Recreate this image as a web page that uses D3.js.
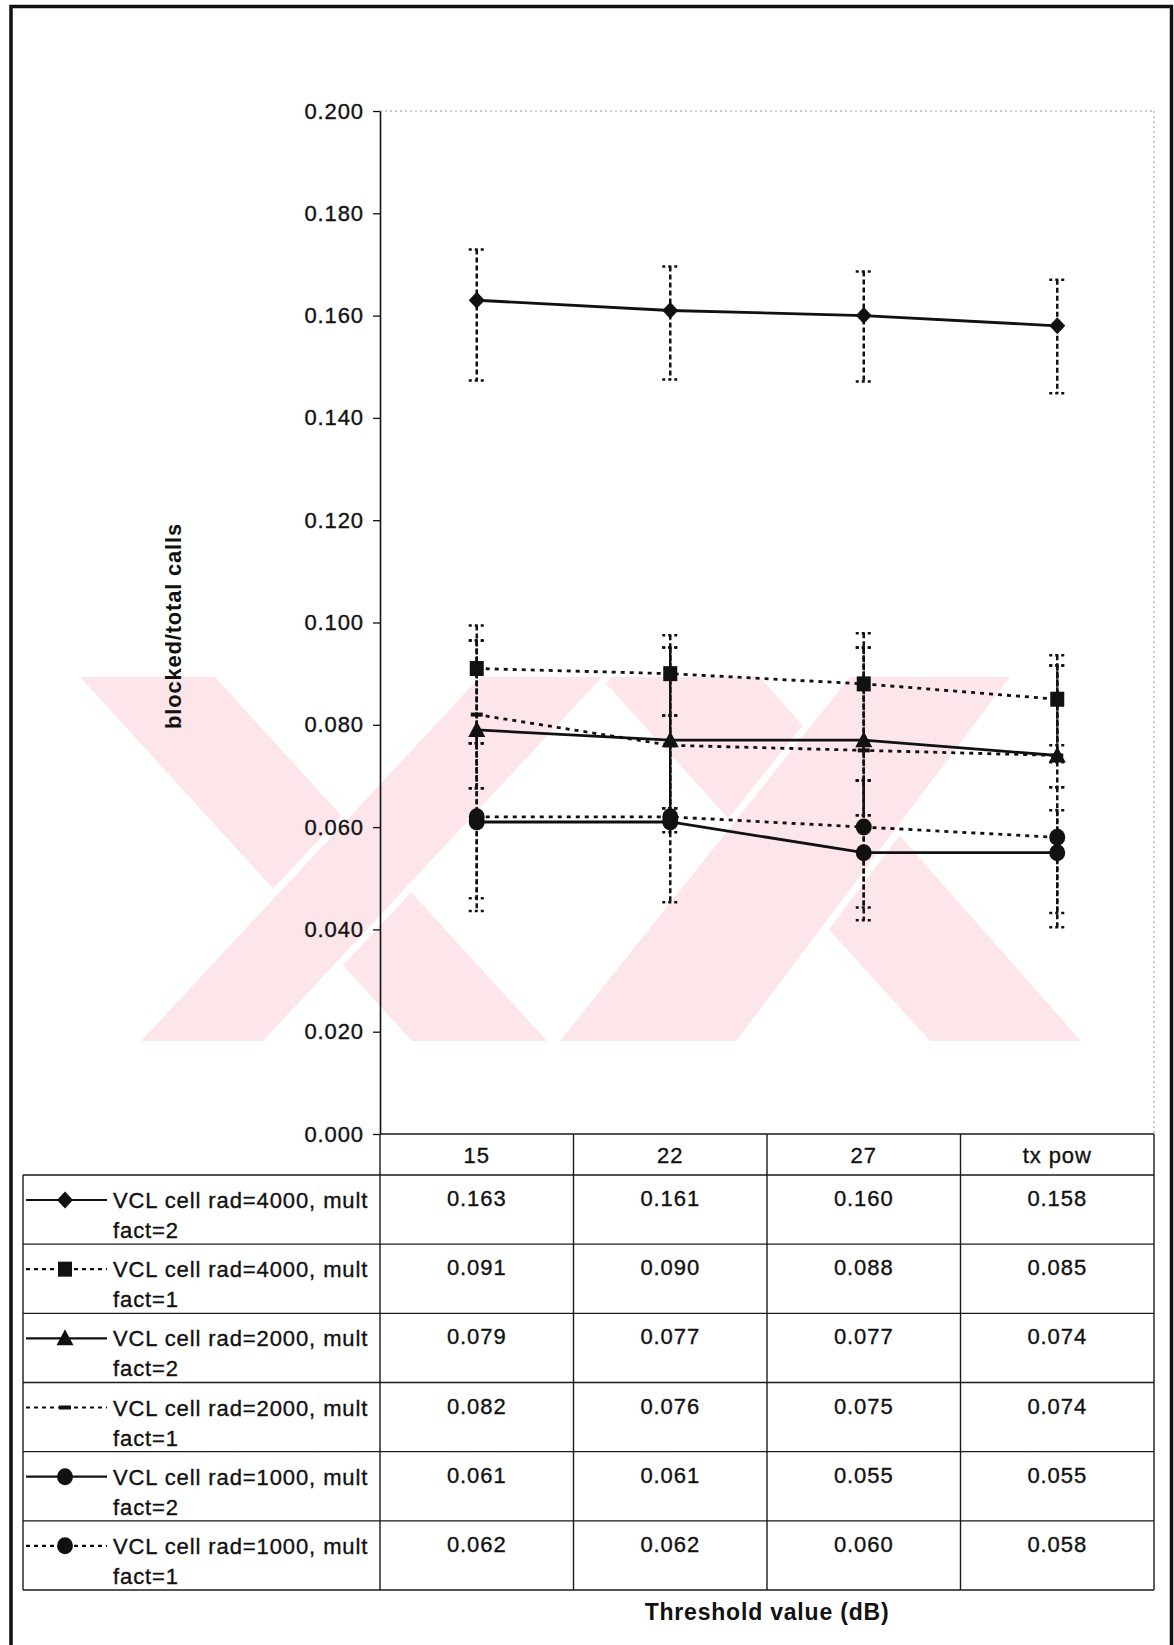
<!DOCTYPE html>
<html>
<head>
<meta charset="utf-8">
<script src="https://cdn.jsdelivr.net/npm/d3@7"></script>
<style>
  html, body { margin: 0; padding: 0; background: #fff; }
  svg { display: block; }
  text { font-family: "Liberation Sans", Arial, sans-serif; fill: #111; }
  .ink { stroke: #111; stroke-width: 0.35px; }
</style>
</head>
<body>
<svg id="chart" width="1174" height="1645"></svg>
<script>
// ---- data ----
const categories = ["15", "22", "27", "tx pow"];
const seriesNames = [
  "VCL cell rad=4000, mult fact=2",
  "VCL cell rad=4000, mult fact=1",
  "VCL cell rad=2000, mult fact=2",
  "VCL cell rad=2000, mult fact=1",
  "VCL cell rad=1000, mult fact=2",
  "VCL cell rad=1000, mult fact=1"
];
const rad4000mult2 = [0.163, 0.161, 0.160, 0.158];
const rad4000mult1 = [0.091, 0.090, 0.088, 0.085];
const rad2000mult2 = [0.079, 0.077, 0.077, 0.074];
const rad2000mult1 = [0.082, 0.076, 0.075, 0.074];
const rad1000mult2 = [0.061, 0.061, 0.055, 0.055];
const rad1000mult1 = [0.062, 0.062, 0.060, 0.058];

// error bar limits (upper / lower) per series
const rad4000mult2Hi = [0.1729, 0.1696, 0.1686, 0.1670];
const rad4000mult2Lo = [0.1473, 0.1475, 0.1471, 0.1448];
const rad4000mult1Hi = [0.0994, 0.0975, 0.0979, 0.0936];
const rad4000mult1Lo = [0.0764, 0.0818, 0.0691, 0.0760];
const rad2000mult2Hi = [0.0965, 0.0951, 0.0951, 0.0916];
const rad2000mult2Lo = [0.0676, 0.0637, 0.0623, 0.0678];
const rad2000mult1Hi = [0.0965, 0.0951, 0.0951, 0.0916];
const rad2000mult1Lo = [0.0676, 0.0637, 0.0623, 0.0727];
const rad1000mult2Hi = [0.0764, 0.0637, 0.0691, 0.0633];
const rad1000mult2Lo = [0.0461, 0.0453, 0.0418, 0.0404];
const rad1000mult1Hi = [0.0764, 0.0818, 0.0691, 0.0678];
const rad1000mult1Lo = [0.0436, 0.0590, 0.0443, 0.0432];

const yTicks = [0, 0.02, 0.04, 0.06, 0.08, 0.10, 0.12, 0.14, 0.16, 0.18, 0.20];
const xTitle = "Threshold value (dB)";
const yTitle = "blocked/total calls";

const seriesValues = [rad4000mult2, rad4000mult1, rad2000mult2, rad2000mult1, rad1000mult2, rad1000mult1];
const seriesHi = [rad4000mult2Hi, rad4000mult1Hi, rad2000mult2Hi, rad2000mult1Hi, rad1000mult2Hi, rad1000mult1Hi];
const seriesLo = [rad4000mult2Lo, rad4000mult1Lo, rad2000mult2Lo, rad2000mult1Lo, rad1000mult2Lo, rad1000mult1Lo];
const seriesDashed = [false, true, false, true, false, true];
const seriesMarker = ["diamond", "square", "triangle", "dash", "circle", "circle"];

const series = seriesNames.map((name, i) => ({
  name, values: seriesValues[i], hi: seriesHi[i], lo: seriesLo[i],
  dashed: seriesDashed[i], marker: seriesMarker[i]
}));

// ---- layout ----
const svg = d3.select("#chart");
const plot = { left: 380, right: 1154, top: 111, bottom: 1134 };
const table = { left: 23, bottom: 1590, headerBottom: 1175 };

const x = d3.scaleBand().domain(categories).range([plot.left, plot.right]);
const cx = c => x(c) + x.bandwidth() / 2;
const y = d3.scaleLinear().domain([0, 0.2]).range([plot.bottom, plot.top]);
const row = d3.scaleBand().domain(seriesNames).range([table.headerBottom, table.bottom]);

const INK = "#111";
const PINK = "#fde6ea";

// outer frame
svg.append("rect").attr("x", 11).attr("y", 6.5).attr("width", 1160.5).attr("height", 1700)
  .attr("fill", "#fff").attr("stroke", INK).attr("stroke-width", 3.5);

// ---- faint background emblem: two interlaced X shapes ----
const emblem = svg.append("g").attr("fill", PINK);
const T = 677, B = 1041;
const backStrokes = [
  [[80, T], [215, T], [547, B], [412, B]],
  [[600, T], [760, T], [1081, B], [930, B]]
];
const frontStrokes = [
  [[141, B], [263, B], [602, T], [480, T]],
  [[560, B], [736, B], [1010, T], [850, T]]
];
const pts = p => p.map(d => d.join(",")).join(" ");
backStrokes.forEach(p => emblem.append("polygon").attr("points", pts(p)));
frontStrokes.forEach(p => emblem.append("polygon").attr("points", pts(p))
  .attr("stroke", "#fff").attr("stroke-width", 14).attr("paint-order", "stroke"));
// keep the outer edges straight where the white seams run past the emblem
emblem.append("rect").attr("x", 60).attr("y", T - 20).attr("width", 1060).attr("height", 20).attr("fill", "#fff");
emblem.append("rect").attr("x", 60).attr("y", B).attr("width", 1060).attr("height", 20).attr("fill", "#fff");

// plot area edges (top and right, faint dotted)
svg.append("line").attr("x1", plot.left).attr("x2", plot.right).attr("y1", plot.top).attr("y2", plot.top)
  .attr("stroke", "#999").attr("stroke-width", 1).attr("stroke-dasharray", "2,3");
svg.append("line").attr("x1", plot.right).attr("x2", plot.right).attr("y1", plot.top).attr("y2", plot.bottom)
  .attr("stroke", "#999").attr("stroke-width", 1).attr("stroke-dasharray", "2,3");

// ---- y axis ----
const yAxis = svg.append("g").attr("transform", `translate(${plot.left},0)`)
  .call(d3.axisLeft(y).tickValues(yTicks).tickFormat(d3.format(".3f")).tickSize(7).tickSizeOuter(0).tickPadding(9));
yAxis.select(".domain").attr("stroke", INK).attr("stroke-width", 1.6);
yAxis.selectAll(".tick line").attr("stroke", INK).attr("stroke-width", 1.3);
yAxis.selectAll(".tick text").attr("font-size", 22).attr("letter-spacing", "0.9px").attr("class", "ink")
  .attr("font-family", "Liberation Sans, Arial, sans-serif").attr("fill", INK);

svg.append("text").attr("transform", `translate(181,626) rotate(-90)`)
  .attr("text-anchor", "middle").attr("font-size", 22).attr("font-weight", "bold")
  .attr("letter-spacing", "0.8px").text(yTitle);

// ---- error bars ----
const eb = svg.append("g").attr("stroke", INK).attr("stroke-width", 2.5).attr("fill", "none");
series.forEach(s => {
  categories.forEach((c, i) => {
    const xc = cx(c);
    eb.append("line").attr("x1", xc).attr("x2", xc).attr("y1", y(s.hi[i])).attr("y2", y(s.lo[i]))
      .attr("stroke-dasharray", "5,3");
    [s.hi[i], s.lo[i]].forEach(v => {
      eb.append("line").attr("x1", xc - 8).attr("x2", xc + 8).attr("y1", y(v)).attr("y2", y(v))
        .attr("stroke-dasharray", "3,3");
    });
  });
});

// ---- series lines ----
const line = d3.line().x((d, i) => cx(categories[i])).y(d => y(d));
series.forEach(s => {
  svg.append("path").datum(s.values).attr("d", line).attr("fill", "none")
    .attr("stroke", INK).attr("stroke-width", 2.8)
    .attr("stroke-dasharray", s.dashed ? "4,5" : null);
});

// ---- markers ----
function drawMarker(g, type, px, py) {
  if (type === "diamond") {
    g.append("path").attr("d", `M${px},${py - 8.5}L${px + 8},${py}L${px},${py + 8.5}L${px - 8},${py}Z`).attr("fill", INK);
  } else if (type === "square") {
    g.append("rect").attr("x", px - 7).attr("y", py - 7.5).attr("width", 14).attr("height", 15).attr("fill", INK);
  } else if (type === "triangle") {
    g.append("path").attr("d", `M${px},${py - 9}L${px + 8.5},${py + 7}L${px - 8.5},${py + 7}Z`).attr("fill", INK);
  } else if (type === "dash") {
    g.append("rect").attr("x", px - 6).attr("y", py - 2).attr("width", 12).attr("height", 4).attr("fill", INK);
  } else if (type === "circle") {
    g.append("ellipse").attr("cx", px).attr("cy", py).attr("rx", 8).attr("ry", 8.5).attr("fill", INK);
  }
}
const mk = svg.append("g");
series.forEach(s => {
  s.values.forEach((v, i) => drawMarker(mk, s.marker, cx(categories[i]), y(v)));
});

// ---- data table ----
const tbl = svg.append("g").attr("stroke", "#1a1a1a").attr("stroke-width", 1.4);
// header row top (continues the category axis)
tbl.append("line").attr("x1", plot.left).attr("x2", plot.right).attr("y1", plot.bottom).attr("y2", plot.bottom);
// horizontal rules
tbl.append("line").attr("x1", table.left).attr("x2", plot.right).attr("y1", table.headerBottom).attr("y2", table.headerBottom);
seriesNames.forEach(n => {
  tbl.append("line").attr("x1", table.left).attr("x2", plot.right)
    .attr("y1", row(n) + row.bandwidth()).attr("y2", row(n) + row.bandwidth());
});
// vertical rules
tbl.append("line").attr("x1", table.left).attr("x2", table.left).attr("y1", table.headerBottom).attr("y2", table.bottom);
categories.forEach(c => {
  tbl.append("line").attr("x1", x(c)).attr("x2", x(c)).attr("y1", plot.bottom).attr("y2", table.bottom);
});
tbl.append("line").attr("x1", plot.right).attr("x2", plot.right).attr("y1", plot.bottom).attr("y2", table.bottom);

// header labels
categories.forEach(c => {
  svg.append("text").attr("class", "ink").attr("x", cx(c)).attr("y", 1163).attr("text-anchor", "middle")
    .attr("font-size", 22).attr("letter-spacing", "0.9px").text(c);
});

// rows: legend key, label, values
const fmt = d3.format(".3f");
series.forEach(s => {
  const top = row(s.name);
  const ly = top + 25;
  const key = svg.append("g");
  key.append("line").attr("x1", 26).attr("x2", 107).attr("y1", ly).attr("y2", ly)
    .attr("stroke", INK).attr("stroke-width", 2.2)
    .attr("stroke-dasharray", s.dashed ? "4,4" : null);
  drawMarker(key, s.marker, 65, ly);

  const cut = s.name.lastIndexOf(" ");
  const t = svg.append("text").attr("class", "ink").attr("x", 113).attr("y", top + 33)
    .attr("font-size", 22).attr("letter-spacing", "0.9px");
  t.append("tspan").attr("x", 113).text(s.name.slice(0, cut));
  t.append("tspan").attr("x", 113).attr("dy", 30).text(s.name.slice(cut + 1));

  s.values.forEach((v, i) => {
    svg.append("text").attr("class", "ink").attr("x", cx(categories[i])).attr("y", top + 31).attr("text-anchor", "middle")
      .attr("font-size", 22).attr("letter-spacing", "0.9px").text(fmt(v));
  });
});

// x title
svg.append("text").attr("x", (plot.left + plot.right) / 2).attr("y", 1620).attr("text-anchor", "middle")
  .attr("font-size", 23).attr("font-weight", "bold").attr("letter-spacing", "0.8px").text(xTitle);
</script>
</body>
</html>
